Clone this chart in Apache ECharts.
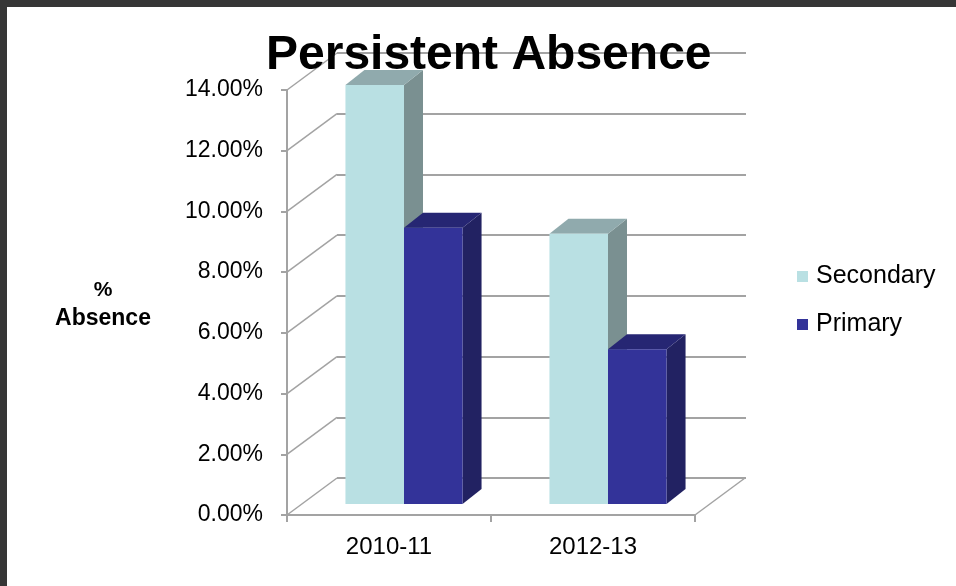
<!DOCTYPE html>
<html>
<head>
<meta charset="utf-8">
<script src="https://cdn.jsdelivr.net/npm/echarts@6/dist/echarts.min.js"></script>
<style>
html,body{margin:0;padding:0;background:#fff;}
#chart{width:956px;height:586px;}
</style>
</head>
<body>
<div id="chart"></div>
<script>
const categories = ['2010-11', '2012-13'];
const seriesNames = ['Secondary', 'Primary'];
const secondary = [13.8, 8.9];
const primary = [9.1, 5.1];
const yTicks = [0, 2, 4, 6, 8, 10, 12, 14];

const FONT = '"Liberation Sans", Arial, sans-serif';
const GRID_COLOR = '#a3a3a3';
const DEPTH = [50, -37];       // back wall offset
const BAR_SHIFT = [15, -11];   // bar front face offset from front plane
const BAR_TOP = [19, -15];     // bar depth
const COLORS = {
  Secondary: { front: '#b9e0e3', top: '#90aaad', side: '#7a9091' },
  Primary:   { front: '#333399', top: '#262673', side: '#222262' }
};

function barRenderer(which) {
  return function (params, api) {
    const cat = api.value(0), val = api.value(1);
    const top = api.coord([cat, val]);
    const base = api.coord([cat, 0]);
    const band = api.size([1, 0])[0];
    const w = band * 0.287;
    const cx = top[0] + BAR_SHIFT[0];
    const x0 = which === 0 ? cx - w : cx;
    const x1 = x0 + w;
    const yt = top[1] + BAR_SHIFT[1];
    const yb = base[1] + BAR_SHIFT[1];
    const c = COLORS[seriesNames[which]];
    const dx = BAR_TOP[0], dy = BAR_TOP[1];
    return {
      type: 'group',
      children: [
        { type: 'polygon', shape: { points: [[x1, yt], [x1 + dx, yt + dy], [x1 + dx, yb + dy], [x1, yb]] }, style: { fill: c.side } },
        { type: 'polygon', shape: { points: [[x0, yt], [x1, yt], [x1 + dx, yt + dy], [x0 + dx, yt + dy]] }, style: { fill: c.top } },
        { type: 'rect', shape: { x: x0, y: yt, width: w, height: yb - yt }, style: { fill: c.front } }
      ]
    };
  };
}

function wallRenderer(params, api) {
  const cs = params.coordSys;
  const v = api.value(1);
  const p = api.coord([0, v]);
  const children = [{
    type: 'line',
    shape: { x1: cs.x, y1: p[1], x2: cs.x + DEPTH[0], y2: p[1] + DEPTH[1] },
    style: { stroke: GRID_COLOR, lineWidth: 1.5 }
  }];
  if (v === 0) {
    children.push({
      type: 'line',
      shape: { x1: cs.x + cs.width, y1: p[1], x2: cs.x + cs.width + DEPTH[0], y2: p[1] + DEPTH[1] },
      style: { stroke: GRID_COLOR, lineWidth: 1.5 }
    });
  }
  return { type: 'group', children: children };
}

const chart = echarts.init(document.getElementById('chart'));
chart.setOption({
  backgroundColor: '#ffffff',
  animation: false,
  title: {
    text: 'Persistent Absence',
    left: 266,
    top: 32,
    padding: 0,
    z: 10,
    textStyle: { fontFamily: FONT, fontSize: 48, fontWeight: 'bold', color: '#000' }
  },
  legend: {
    orient: 'vertical',
    left: 797,
    top: 264,
    padding: 0,
    itemWidth: 11,
    itemHeight: 11,
    itemGap: 23,
    icon: 'rect',
    data: seriesNames,
    textStyle: { fontFamily: FONT, fontSize: 25, color: '#000', padding: [0, 0, 0, 3] }
  },
  graphic: [
    { type: 'rect', left: 0, top: 0, shape: { width: 956, height: 7 }, style: { fill: '#363636' } },
    { type: 'rect', left: 0, top: 0, shape: { width: 7, height: 586 }, style: { fill: '#363636' } },
    { type: 'text', style: { text: '%', font: 'bold 21px ' + FONT, fill: '#000', textAlign: 'center', textVerticalAlign: 'middle' }, x: 103, y: 290 },
    { type: 'text', style: { text: 'Absence', font: 'bold 23px ' + FONT, fill: '#000', textAlign: 'center', textVerticalAlign: 'middle' }, x: 103, y: 319 }
  ],
  grid: [
    { left: 287, right: 261, top: 90, bottom: 71 },
    { left: 337, right: 210, top: 53, bottom: 108 }
  ],
  xAxis: [
    {
      type: 'category', gridIndex: 0, data: categories,
      axisLine: { lineStyle: { color: GRID_COLOR, width: 2 } },
      axisTick: { show: true, length: 7, lineStyle: { color: GRID_COLOR, width: 2 } },
      axisLabel: { margin: 20, fontFamily: FONT, fontSize: 24, color: '#000' },
      splitLine: { show: false }
    },
    {
      type: 'category', gridIndex: 1, data: categories,
      axisLine: { show: false }, axisTick: { show: false }, axisLabel: { show: false }, splitLine: { show: false }
    }
  ],
  yAxis: [
    {
      type: 'value', gridIndex: 0, min: 0, max: 14, interval: 2,
      axisLine: { show: true, lineStyle: { color: GRID_COLOR, width: 2 } },
      axisTick: { show: true, length: 6, lineStyle: { color: GRID_COLOR, width: 2 } },
      axisLabel: { margin: 24, fontFamily: FONT, fontSize: 23, color: '#000', formatter: v => v.toFixed(2) + '%' },
      splitLine: { show: false }
    },
    {
      type: 'value', gridIndex: 1, min: 0, max: 14, interval: 2,
      axisLine: { show: false }, axisTick: { show: false }, axisLabel: { show: false },
      splitLine: { show: true, lineStyle: { color: GRID_COLOR, width: 2 } }
    }
  ],
  series: [
    {
      type: 'custom', name: 'walls', xAxisIndex: 0, yAxisIndex: 0,
      data: yTicks.map(v => [0, v]), renderItem: wallRenderer, silent: true, z: 1
    },
    {
      type: 'custom', name: 'Secondary', xAxisIndex: 0, yAxisIndex: 0,
      itemStyle: { color: COLORS.Secondary.front },
      data: categories.map((c, i) => [i, secondary[i]]), renderItem: barRenderer(0), z: 3
    },
    {
      type: 'custom', name: 'Primary', xAxisIndex: 0, yAxisIndex: 0,
      itemStyle: { color: COLORS.Primary.front },
      data: categories.map((c, i) => [i, primary[i]]), renderItem: barRenderer(1), z: 3
    }
  ]
});
</script>
</body>
</html>
